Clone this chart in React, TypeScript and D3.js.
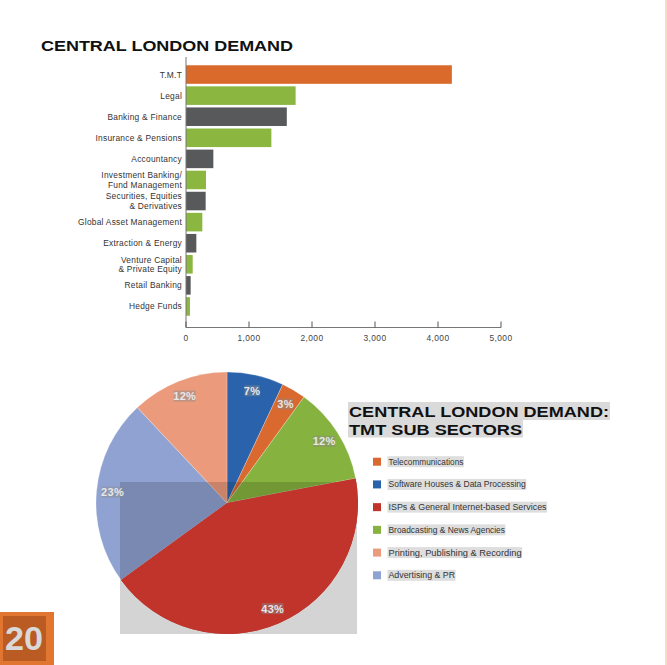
import React from "react";
import * as d3 from "d3";

const W = 667;
const H = 665;

// Bar chart data
const barCategories = [
  "T.M.T",
  "Legal",
  "Banking  & Finance",
  "Insurance & Pensions",
  "Accountancy",
  "Investment Banking/\nFund Management",
  "Securities, Equities\n& Derivatives",
  "Global Asset Management",
  "Extraction & Energy",
  "Venture Capital\n& Private Equity",
  "Retail Banking",
  "Hedge Funds",
];
const barValues = [4220, 1740, 1600, 1355, 434, 317, 312, 259, 164, 106, 74, 63];
const barColorKeys = ["tmt", "green", "gray", "green", "gray", "green", "gray", "green", "gray", "green", "gray", "green"];
const barTicks = [0, 1000, 2000, 3000, 4000, 5000];

// Pie data (legend order)
const sectors = [
  "Telecommunications",
  "Software Houses & Data Processing",
  "ISPs & General Internet-based Services",
  "Broadcasting & News Agencies",
  "Printing, Publishing & Recording",
  "Advertising & PR",
];
const sectorValues = [3, 7, 43, 12, 12, 23];
const sectorColors = ["#D9692E", "#2A63AC", "#C1342B", "#86B23F", "#EB9A7B", "#8FA2D2"];
// clockwise drawing order starting at 12 o'clock
const pieOrder = [1, 0, 3, 2, 5, 4];

const barColor: Record<string, string> = {
  tmt: "#DA6A2C",
  green: "#8BB640",
  gray: "#58595B",
};

const FONT = "'Liberation Sans', Arial, Helvetica, sans-serif";

export default function App() {
  const x = d3.scaleLinear().domain([0, 5000]).range([186, 501]);
  const y = d3
    .scaleBand<string>()
    .domain(barCategories)
    .range([64, 317])
    .paddingInner(0.12)
    .paddingOuter(0.06);

  const cx = 227;
  const cy = 503;
  const R = 131;
  const pieData = pieOrder.map((i) => ({ i, v: sectorValues[i] }));
  const arcs = d3
    .pie<{ i: number; v: number }>()
    .sort(null)
    .value((d) => d.v)(pieData);
  const arcGen = d3.arc<any>().innerRadius(0).outerRadius(R);
  const labelArc = d3.arc<any>().innerRadius(115).outerRadius(115);
  const redArc = arcs.find((a) => a.data.i === 2)!;

  const legendY = d3.scalePoint<string>().domain(sectors).range([461.7, 575.3]);

  return (
    <svg
      width={W}
      height={H}
      style={{ position: "absolute", left: 0, top: 0, background: "#fff" }}
      fontFamily={FONT}
    >
      <defs>
        <clipPath id="pieClip">
          <circle cx={cx} cy={cy} r={R} />
        </clipPath>
      </defs>
      <rect x={0} y={0} width={W} height={H} fill="#fff" />
      <line x1={666} x2={666} y1={0} y2={H} stroke="#F2D3AE" strokeWidth={1.5} />

      {/* Title */}
      <text x={41} y={51} fontSize={15} fontWeight={900} fill="#111" textLength={252} lengthAdjust="spacingAndGlyphs">
        CENTRAL LONDON DEMAND
      </text>

      {/* Bars */}
      {barCategories.map((c, i) => (
        <rect
          key={c}
          x={x(0)}
          y={y(c)!}
          width={x(barValues[i]) - x(0)}
          height={y.bandwidth()}
          fill={barColor[barColorKeys[i]]}
        />
      ))}
      {/* Category labels */}
      {barCategories.map((c) => {
        const lines = c.split("\n");
        const cyy = y(c)! + y.bandwidth() / 2;
        const lh = 9.5;
        return (
          <text key={c} x={182} textAnchor="end" fontSize={8.4} fill="#333" letterSpacing={0.25}>
            {lines.map((l, j) => (
              <tspan key={j} x={182} y={cyy + (j - (lines.length - 1) / 2) * lh + 3}>
                {l}
              </tspan>
            ))}
          </text>
        );
      })}
      {/* Axes */}
      <line x1={186} x2={186} y1={57} y2={327.5} stroke="#777" strokeWidth={1} />
      <line x1={186} x2={501} y1={327.5} y2={327.5} stroke="#777" strokeWidth={1} />
      {barTicks.map((t) => (
        <g key={t}>
          <line x1={x(t)} x2={x(t)} y1={321.5} y2={327.5} stroke="#555" strokeWidth={1} />
          <text x={x(t)} y={341} fontSize={8.4} textAnchor="middle" fill="#444" letterSpacing={0.4}>
            {d3.format(",")(t)}
          </text>
        </g>
      ))}

      {/* Pie shadow box */}
      <rect x={120} y={482} width={237} height={152} fill="#D4D4D4" />
      <g transform={`translate(${cx},${cy})`}>
        {arcs.map((a) => (
          <path key={a.data.i} d={arcGen(a)!} fill={sectorColors[a.data.i]} stroke="#fff" strokeOpacity={0.5} strokeWidth={0.5} />
        ))}
      </g>
      <rect x={120} y={482} width={237} height={152} fill="#000" opacity={0.15} clipPath="url(#pieClip)" />
      <g transform={`translate(${cx},${cy})`}>
        <path d={arcGen(redArc)!} fill={sectorColors[2]} />
        {arcs.map((a) => {
          const [lx, ly] = labelArc.centroid(a);
          const label = `${a.data.v}%`;
          const w = label.length * 6.6 + 2;
          return (
            <g key={a.data.i} transform={`translate(${lx},${ly})`}>
              <rect x={-w / 2} y={-5.5} width={w} height={11} fill="#8a8a8a" opacity={0.45} />
              <text x={0} y={4} fontSize={11} fontWeight={900} textAnchor="middle" fill="#E8E8E8" letterSpacing={0.3}>
                {label}
              </text>
            </g>
          );
        })}
      </g>

      {/* Subtitle */}
      <rect x={348} y={402} width={262} height={18} fill="#DADADA" />
      <rect x={348} y={420} width={175} height={17.5} fill="#DADADA" />
      <text x={349} y={417} fontSize={14} fontWeight={900} fill="#111" textLength={260} lengthAdjust="spacingAndGlyphs">
        CENTRAL LONDON DEMAND:
      </text>
      <text x={349} y={435} fontSize={14} fontWeight={900} fill="#111" textLength={173} lengthAdjust="spacingAndGlyphs">
        TMT SUB SECTORS
      </text>

      {/* Legend */}
      {sectors.map((s, i) => {
        const ly = legendY(s)!;
        const tw = s.length * 4.16;
        return (
          <g key={s}>
            <rect x={373} y={ly - 4} width={8} height={8} fill={sectorColors[i]} />
            <rect x={387.5} y={ly - 5.5} width={tw + 1.5} height={11} fill="#DEDEDE" />
            <text x={388.5} y={ly + 3} fontSize={8.3} fill="#333" textLength={tw} lengthAdjust="spacingAndGlyphs">
              {s}
            </text>
          </g>
        );
      })}

      {/* Page number box */}
      <rect x={0} y={612} width={54} height={53} fill="#E0762F" />
      <rect x={3} y={616} width={43} height={45} fill="#BB5B24" />
      <text x={5} y={650} fontSize={34} fontWeight={900} fill="#D9D9D9" textLength={38} lengthAdjust="spacingAndGlyphs">
        20
      </text>
    </svg>
  );
}
